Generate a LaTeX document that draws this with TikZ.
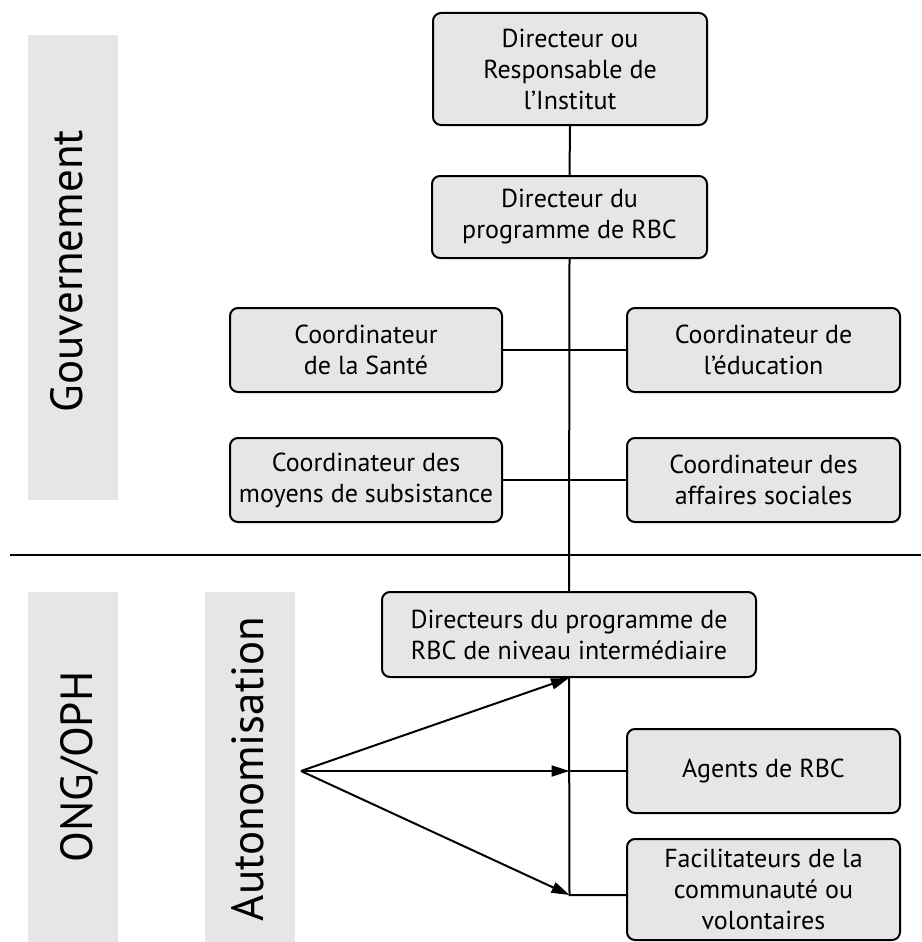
\documentclass[tikz,border=0pt]{standalone}
\usepackage{fontspec}
\setmainfont{PT Sans}
\usetikzlibrary{arrows.meta}
\definecolor{boxgray}{HTML}{E6E6E6}
\definecolor{bargray}{HTML}{E6E6E6}
\tikzset{
  orgbox/.style={draw=black, line width=2pt, fill=boxgray, rounded corners=8pt,
    align=center, inner sep=0pt, font=\fontsize{26}{31}\selectfont},
  sidelabel/.style={rotate=90, anchor=base, font=\fontsize{45}{48}\selectfont, inner sep=0pt},
  conn/.style={line width=2pt},
  arr/.style={line width=2pt, -{Triangle[length=18pt,width=11pt]}},
}
\begin{document}
\begin{tikzpicture}[x=1pt,y=-1pt]
\useasboundingbox (0,0) rectangle (921,942);
% side bars
\fill[bargray] (28,35) rectangle (118,500);
\fill[bargray] (28,592) rectangle (118,942);
\fill[bargray] (205,592) rectangle (295,942);
\node[sidelabel] (gouv) at (82,271) {Gouvernement};
\node[sidelabel] (ong) at (92,767) {ONG/OPH};
\node[sidelabel] (auto) at (263,769) {Autonomisation};
% separator
\coordinate (sepL) at (10,555);
\coordinate (sepR) at (921,555);
\draw[conn] (sepL) -- (sepR);
% boxes
\node[orgbox, minimum width=274pt, minimum height=112pt] (inst) at (570,69) {Directeur ou\\Responsable de\\l’Institut};
\node[orgbox, minimum width=275pt, minimum height=82pt] (prog) at (569.5,217) {Directeur du\\programme de RBC};
\node[orgbox, minimum width=272pt, minimum height=84pt] (sante) at (366,350) {Coordinateur\\de la Santé};
\node[orgbox, minimum width=273pt, minimum height=84pt] (educ) at (763.5,350) {Coordinateur de\\l’éducation};
\node[orgbox, minimum width=272pt, minimum height=84pt] (subs) at (366,480) {Coordinateur des\\moyens de subsistance};
\node[orgbox, minimum width=273pt, minimum height=84pt] (soc) at (763.5,480) {Coordinateur des\\affaires sociales};
\node[orgbox, minimum width=374pt, minimum height=85pt] (inter) at (569,634.5) {Directeurs du programme de\\RBC de niveau intermédiaire};
\node[orgbox, minimum width=273pt, minimum height=84pt] (agents) at (763.5,771) {Agents de RBC};
\node[orgbox, minimum width=273pt, minimum height=101pt] (facil) at (763.5,889.5) {Facilitateurs de la\\communauté ou\\volontaires};
% connectors
\coordinate (jagents) at (569.5,771);
\coordinate (jfacil) at (569.5,895);
\draw[conn] (inst.south) -- (prog.north);
\draw[conn] (prog.south) -- (inter.north);
\draw[conn] (sante.east) -- (educ.west);
\draw[conn] (subs.east) -- (soc.west);
\draw[conn] (inter.south) -- (jfacil) -- (jfacil -| facil.west);
\draw[conn] (jagents) -- (agents.west);
% arrows
\coordinate (src) at (301,771);
\draw[arr] (src) -- (inter.south);
\draw[arr] (src) -- (jagents);
\draw[arr] (src) -- (jfacil);
\end{tikzpicture}
\end{document}
